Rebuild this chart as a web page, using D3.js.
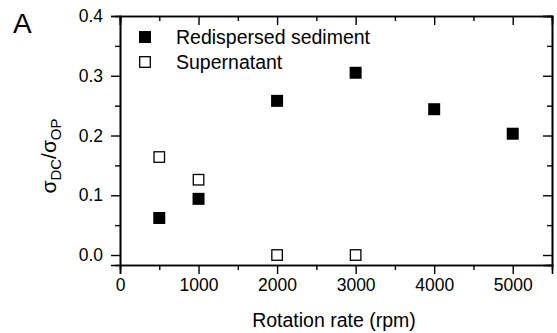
<!DOCTYPE html>
<html>
<head>
<meta charset="utf-8">
<script src="https://cdn.jsdelivr.net/npm/d3@7"></script>
<style>
  body { margin: 0; background: #fff; }
  svg { display: block; font-family: "Liberation Sans", Arial, sans-serif; }
</style>
</head>
<body>
<svg id="chart" width="557" height="333"></svg>
<script>
// Data
const rpmSediment = [500, 1000, 2000, 3000, 4000, 5000];
const sediment = [0.062, 0.094, 0.258, 0.305, 0.244, 0.203];
const rpmSupernatant = [500, 1000, 2000, 3000];
const supernatant = [0.164, 0.126, 0.0, 0.0];
const xTicks = [0, 1000, 2000, 3000, 4000, 5000];
const yTicks = [0.0, 0.1, 0.2, 0.3, 0.4];
const seriesNames = ["Redispersed sediment", "Supernatant"];

const margin = { top: 16, right: 5, bottom: 68, left: 120 };
const W = 557, H = 333;
const width = W - margin.left - margin.right;
const height = H - margin.top - margin.bottom;

const svg = d3.select("#chart");
const g = svg.append("g")
    .attr("transform", `translate(${margin.left},${margin.top})`);

const x = d3.scaleLinear().domain([0, 5500]).range([0, width]);
const y = d3.scaleLinear().domain([-0.0167, 0.4]).range([height, 0]);

const minorX = d3.range(500, 5500, 1000);
const minorY = [0.05, 0.15, 0.25, 0.35];

// bottom axis (outward ticks)
g.append("g")
    .attr("transform", `translate(0,${height})`)
    .call(d3.axisBottom(x).tickValues(xTicks).tickFormat(d3.format("d")).tickSize(9).tickPadding(5));
g.append("g")
    .attr("transform", `translate(0,${height})`)
    .call(d3.axisBottom(x).tickValues(minorX).tickFormat("").tickSize(5));

// left axis (outward ticks)
g.append("g")
    .call(d3.axisLeft(y).tickValues(yTicks).tickFormat(d3.format(".1f")).tickSize(9).tickPadding(8));
g.append("g")
    .call(d3.axisLeft(y).tickValues(minorY).tickFormat("").tickSize(5));

// top axis (inward ticks)
g.append("g")
    .call(d3.axisTop(x).tickValues(xTicks).tickFormat("").tickSize(-9));
g.append("g")
    .call(d3.axisTop(x).tickValues(minorX).tickFormat("").tickSize(-5));

// right axis (inward ticks)
g.append("g")
    .attr("transform", `translate(${width},0)`)
    .call(d3.axisRight(y).tickValues(yTicks).tickFormat("").tickSize(-9));
g.append("g")
    .attr("transform", `translate(${width},0)`)
    .call(d3.axisRight(y).tickValues(minorY).tickFormat("").tickSize(-5));

g.selectAll(".domain").attr("stroke", "#000").attr("stroke-width", 1.6);
g.selectAll(".tick line").attr("stroke", "#000").attr("stroke-width", 1.4);
g.selectAll(".tick text")
    .attr("fill", "#000")
    .style("font-size", "17.5px")
    .style("font-family", "Liberation Sans, Arial, sans-serif");

// markers
const sq = 12;
g.selectAll(".sed")
    .data(rpmSediment.map((r, i) => ({ r, v: sediment[i] })))
    .enter().append("rect")
    .attr("class", "sed")
    .attr("x", d => x(d.r) - sq / 2)
    .attr("y", d => y(d.v) - sq / 2)
    .attr("width", sq).attr("height", sq)
    .attr("fill", "#000");

g.selectAll(".sup")
    .data(rpmSupernatant.map((r, i) => ({ r, v: supernatant[i] })))
    .enter().append("rect")
    .attr("class", "sup")
    .attr("x", d => x(d.r) - (sq - 1.5) / 2)
    .attr("y", d => y(d.v) - (sq - 1.5) / 2)
    .attr("width", sq - 1.5).attr("height", sq - 1.5)
    .attr("fill", "#fff")
    .attr("stroke", "#000")
    .attr("stroke-width", 1.3);

// legend
const legend = g.append("g").attr("transform", "translate(25,21)");
seriesNames.forEach((name, i) => {
    const row = legend.append("g").attr("transform", `translate(0,${i * 25})`);
    if (i === 0) {
        row.append("rect").attr("x", -6).attr("y", -6).attr("width", 12).attr("height", 12).attr("fill", "#000");
    } else {
        row.append("rect").attr("x", -5.3).attr("y", -5.3).attr("width", 10.6).attr("height", 10.6)
            .attr("fill", "#fff").attr("stroke", "#000").attr("stroke-width", 1.3);
    }
    row.append("text")
        .attr("x", 31).attr("y", 7)
        .style("font-size", "19.5px")
        .text(name);
});

// axis titles
svg.append("text")
    .attr("x", margin.left + x(2750) - 2)
    .attr("y", 327)
    .attr("text-anchor", "middle")
    .style("font-size", "19.5px")
    .text("Rotation rate (rpm)");

const yt = svg.append("text")
    .attr("transform", "translate(56,156) rotate(-90)")
    .attr("text-anchor", "middle")
    .style("font-size", "21px");
yt.append("tspan").text("σ");
yt.append("tspan").attr("baseline-shift", "-30%").style("font-size", "15px").text("DC");
yt.append("tspan").text("/σ");
yt.append("tspan").attr("baseline-shift", "-30%").style("font-size", "15px").text("OP");

// panel letter
svg.append("text")
    .attr("x", 13).attr("y", 33)
    .style("font-size", "28px")
    .text("A");
</script>
</body>
</html>
